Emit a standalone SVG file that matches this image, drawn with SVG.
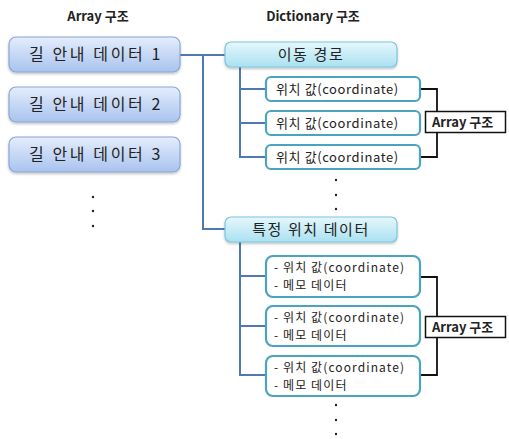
<svg xmlns="http://www.w3.org/2000/svg" width="509" height="439" viewBox="0 0 509 439">
<style>
text{font-family:"Noto Sans CJK KR","Noto Sans",sans-serif;fill:#222}
.title{font-size:13px;font-weight:bold;text-anchor:middle}
.lb{fill:url(#gBlue);stroke:#8aa6d6;stroke-width:1.2}
.db{fill:url(#gCyan);stroke:#7cc6dc;stroke-width:1.2}
.sb{fill:#fff;stroke:#4aa3bf;stroke-width:2.2}
.lt{font-size:16px;text-anchor:middle;letter-spacing:2.6px}
.dt{font-size:15px;text-anchor:middle;letter-spacing:1.6px}
.st{font-size:13px;letter-spacing:0.6px}
.mt{font-size:12px;letter-spacing:1.1px}
.conn{fill:none;stroke:#4f79b3;stroke-width:2}
.br{fill:none;stroke:#111;stroke-width:1.8}
.ab{fill:#fff;stroke:#111;stroke-width:1.5}
.dot{fill:#222}
</style>
<defs>
<linearGradient id="gBlue" x1="0" y1="0" x2="0" y2="1">
<stop offset="0" stop-color="#e4edfc"/>
<stop offset="1" stop-color="#a9c3ee"/>
</linearGradient>
<linearGradient id="gCyan" x1="0" y1="0" x2="0" y2="1">
<stop offset="0" stop-color="#e6f7fc"/>
<stop offset="1" stop-color="#a9e1f1"/>
</linearGradient>
<filter id="sh" x="-10%" y="-20%" width="120%" height="150%">
<feDropShadow dx="0" dy="1.5" stdDeviation="1.2" flood-color="#000" flood-opacity="0.25"/>
</filter>
</defs>

<text class="title" x="98" y="21">Array 구조</text>
<text class="title" x="313" y="21">Dictionary 구조</text>

<g id="connectors">
<polyline class="conn" points="180,55 225,55"/>
<polyline class="conn" points="203,55 203,229 225,229"/>
<polyline class="conn" points="240,67 240,157 266,157"/>
<line class="conn" x1="240" y1="89" x2="266" y2="89"/>
<line class="conn" x1="240" y1="123" x2="266" y2="123"/>
<polyline class="conn" points="240,242 240,375 266,375"/>
<line class="conn" x1="240" y1="276" x2="266" y2="276"/>
<line class="conn" x1="240" y1="326" x2="266" y2="326"/>
<polyline class="br" points="420,89 437,89 437,157 420,157"/>
<polyline class="br" points="420,277 437,277 437,375 420,375"/>
</g>

<g id="left1"><rect class="lb" x="9" y="37" width="171" height="35" rx="7" filter="url(#sh)"/><text class="lt" x="96" y="60">길 안내 데이터 1</text></g>
<g id="left2"><rect class="lb" x="9" y="87" width="171" height="35" rx="7" filter="url(#sh)"/><text class="lt" x="96" y="110">길 안내 데이터 2</text></g>
<g id="left3"><rect class="lb" x="9" y="137" width="171" height="35" rx="7" filter="url(#sh)"/><text class="lt" x="96" y="160">길 안내 데이터 3</text></g>
<g id="leftDots"><circle class="dot" cx="93" cy="197" r="1.2"/><circle class="dot" cx="93" cy="211" r="1.2"/><circle class="dot" cx="93" cy="226" r="1.2"/></g>

<g id="route"><rect class="db" x="225" y="42" width="172" height="25" rx="6" filter="url(#sh)"/><text class="dt" x="311" y="60">이동 경로</text></g>
<g id="coord1"><rect class="sb" x="266" y="77" width="154" height="24" rx="5"/><text class="st" x="276" y="94">위치 값(coordinate)</text></g>
<g id="coord2"><rect class="sb" x="266" y="111" width="154" height="24" rx="5"/><text class="st" x="276" y="128">위치 값(coordinate)</text></g>
<g id="coord3"><rect class="sb" x="266" y="145" width="154" height="24" rx="5"/><text class="st" x="276" y="162">위치 값(coordinate)</text></g>
<g id="arrayLabel1"><rect class="ab" x="425.5" y="111.5" width="80" height="21"/><text class="st" x="432" y="127" style="font-weight:bold;letter-spacing:0">Array 구조</text></g>
<g id="midDots"><circle class="dot" cx="336" cy="180" r="1.2"/><circle class="dot" cx="336" cy="195" r="1.2"/><circle class="dot" cx="336" cy="209" r="1.2"/></g>

<g id="spot"><rect class="db" x="225" y="217" width="172" height="25" rx="6" filter="url(#sh)"/><text class="dt" x="311" y="235">특정 위치 데이터</text></g>
<g id="spot1"><rect class="sb" x="266" y="256" width="154" height="41" rx="7"/><text class="mt" x="274" y="272">- 위치 값(coordinate)</text><text class="mt" x="274" y="289.5">- 메모 데이터</text></g>
<g id="spot2"><rect class="sb" x="266" y="306" width="154" height="40" rx="7"/><text class="mt" x="274" y="322">- 위치 값(coordinate)</text><text class="mt" x="274" y="339.5">- 메모 데이터</text></g>
<g id="spot3"><rect class="sb" x="266" y="356" width="154" height="40" rx="7"/><text class="mt" x="274" y="372">- 위치 값(coordinate)</text><text class="mt" x="274" y="389.5">- 메모 데이터</text></g>
<g id="arrayLabel2"><rect class="ab" x="425.5" y="316.5" width="80" height="21"/><text class="st" x="432" y="332" style="font-weight:bold;letter-spacing:0">Array 구조</text></g>
<g id="bottomDots"><circle class="dot" cx="336" cy="405" r="1.2"/><circle class="dot" cx="336" cy="420" r="1.2"/><circle class="dot" cx="336" cy="434" r="1.2"/></g>
</svg>
